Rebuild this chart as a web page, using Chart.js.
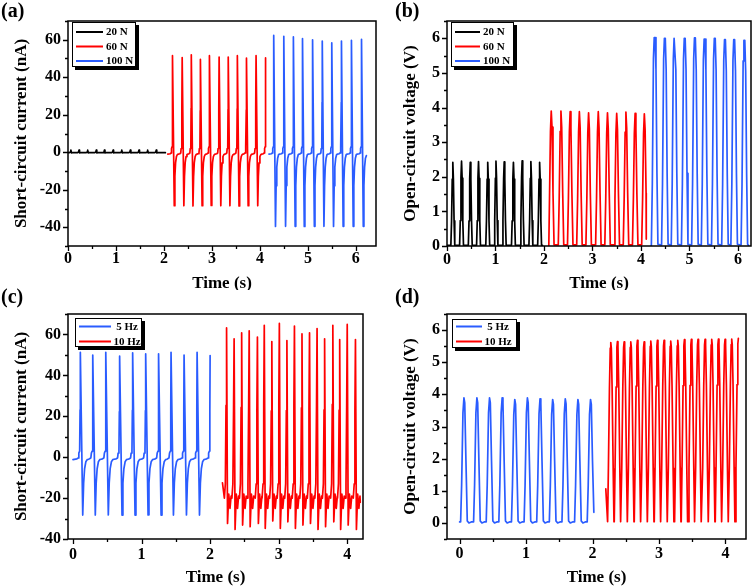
<!DOCTYPE html>
<html>
<head>
<meta charset="utf-8">
<script src="https://cdn.jsdelivr.net/npm/chart.js@4.4.1/dist/chart.umd.min.js"></script>
<style>
  body { margin: 0; background: #fff; }
  #page { position: relative; width: 756px; height: 588px; overflow: hidden; }
  canvas { position: absolute; }
  .tag { position: absolute; font: bold 20px "Liberation Serif", "Times New Roman", serif; line-height: 20px; }
</style>
</head>
<body>
<div id="page">
  <canvas id="chartA" width="378" height="290" style="left:0;top:0"></canvas>
  <canvas id="chartB" width="378" height="290" style="left:378px;top:0"></canvas>
  <canvas id="chartC" width="378" height="298" style="left:0;top:290px"></canvas>
  <canvas id="chartD" width="378" height="298" style="left:378px;top:290px"></canvas>
  <div class="tag" style="left:1px;top:0">(a)</div>
  <div class="tag" style="left:395px;top:0">(b)</div>
  <div class="tag" style="left:1px;top:286px">(c)</div>
  <div class="tag" style="left:395px;top:286px">(d)</div>
</div>
<script>
// ---- colours ----
const BLACK = "#000000";
const RED = "#ff0000";
const BLUE = "#2a5cff";

// ---- tick labels ----
const timeTicks6 = [0, 1, 2, 3, 4, 5, 6];
const timeTicks4 = [0, 1, 2, 3, 4];
const currentTicks = [-40, -20, 0, 20, 40, 60];
const voltageTicks = [0, 1, 2, 3, 4, 5, 6];

// ---- (a) short-circuit current, 20 / 60 / 100 N (peak times in s, values in nA) ----
const a20Peaks = [0.06, 0.23, 0.41, 0.59, 0.76, 0.94, 1.12, 1.30, 1.48, 1.66, 1.84];
const a20Heights = [1.2, 1.2, 1.1, 1.2, 1.2, 1.1, 1.2, 1.2, 1.2, 1.1, 1.2];
const a60Peaks = [2.18, 2.38, 2.57, 2.76, 2.95, 3.15, 3.34, 3.53, 3.72, 3.92, 4.12];
const a60Heights = [51.5, 50.5, 52.0, 49.5, 51.5, 50.8, 50.8, 51.5, 50.2, 51.5, 50.3];
const a60Troughs = [-28.5, -28.5, -28.6, -28.5, -28.4, -28.5, -28.5, -28.6, -28.5, -28.5, -28.5];
const a100Peaks = [4.29, 4.50, 4.70, 4.89, 5.10, 5.30, 5.50, 5.70, 5.91, 6.12];
const a100Heights = [62.3, 61.8, 61.5, 60.6, 60.0, 59.3, 58.4, 59.3, 59.7, 60.2];
const a100Troughs = [-39.6, -39.5, -39.5, -39.6, -39.5, -39.5, -39.6, -39.5, -39.5, -39.5];

// ---- (b) open-circuit voltage, 20 / 60 / 100 N (V) ----
const b20Peaks = [0.12, 0.30, 0.48, 0.65, 0.84, 1.01, 1.18, 1.37, 1.55, 1.73, 1.91];
const b20Heights = [2.42, 2.45, 2.42, 2.44, 2.42, 2.45, 2.43, 2.42, 2.46, 2.44, 2.42];
const b60Peaks = [2.15, 2.35, 2.54, 2.73, 2.92, 3.12, 3.31, 3.50, 3.69, 3.88, 4.07];
const b60Heights = [3.90, 3.90, 3.88, 3.88, 3.85, 3.88, 3.85, 3.83, 3.87, 3.83, 3.82];
const b100Peaks = [4.28, 4.49, 4.69, 4.90, 5.11, 5.31, 5.52, 5.73, 5.92, 6.13];
const b100Heights = [6.02, 6.00, 6.00, 6.00, 6.01, 5.98, 6.00, 5.96, 5.96, 5.94];

// ---- (c) short-circuit current, 5 / 10 Hz (nA) ----
const c5Peaks = [0.107, 0.29, 0.48, 0.68, 0.87, 1.06, 1.25, 1.43, 1.62, 1.81, 2.00];
const c5Heights = [51.3, 49.9, 51.3, 49.4, 51.0, 50.5, 50.5, 51.3, 49.9, 51.3, 49.7];
const c5Troughs = [-28.3, -28.3, -28.2, -28.3, -28.3, -28.2, -28.3, -28.3, -28.2, -28.3, -28.3];
const c10Peaks = [2.24, 2.35, 2.46, 2.57, 2.69, 2.79, 2.90, 3.01, 3.12, 3.23, 3.34, 3.45, 3.56, 3.67, 3.79, 3.89, 4.00, 4.12];
const c10Heights = [63.2, 57.9, 60.8, 61.8, 58.7, 64.5, 56.5, 65.4, 57.0, 64.1, 60.3, 60.8, 62.9, 57.9, 64.5, 57.5, 64.9, 57.5];
const c10Troughs = [-32.4, -35.3, -33.2, -34.0, -32.4, -34.8, -31.2, -34.8, -31.6, -34.8, -33.2, -32.4, -35.3, -34.0, -31.6, -35.3, -33.2, -35.3];

// ---- (d) open-circuit voltage, 5 / 10 Hz (V) ----
const d5Peaks = [0.065, 0.26, 0.45, 0.64, 0.83, 1.02, 1.21, 1.40, 1.59, 1.78, 1.97];
const d5Heights = [3.89, 3.89, 3.89, 3.89, 3.84, 3.89, 3.86, 3.84, 3.86, 3.84, 3.84];
const d10Peaks = [2.275, 2.375, 2.476, 2.576, 2.676, 2.777, 2.877, 2.977, 3.077, 3.177, 3.283, 3.383, 3.488, 3.588, 3.694, 3.794, 3.895, 3.995, 4.095, 4.195];
const d10Heights = [5.61, 5.64, 5.63, 5.63, 5.68, 5.63, 5.66, 5.68, 5.68, 5.66, 5.68, 5.70, 5.71, 5.71, 5.71, 5.71, 5.72, 5.71, 5.72, 5.74];

// first / last sample of each trace [time, value]
const a20Ends = [[0, -0.2], [2.03, -0.2]];
const a60Ends = [[2.08, -1.0], [4.12, 50.3]];
const a100Ends = [[4.19, -1.0], [6.22, -1.8]];
const b20Ends = [[0, 0.02], [1.97, 0.02]];
const b60Ends = [[2.10, 0.02], [4.11, 0.20]];
const b100Ends = [[4.21, 0.02], [6.22, 0.02]];
const c5Ends = [[0, -1.2], [2.00, 49.7]];
const c10Ends = [[2.18, -12.5], [4.19, -22.0]];
const d5Ends = [[0, 0.03], [2.02, 0.33]];
const d10Ends = [[2.20, 1.06], [4.195, 5.74]];

// pulse outlines: [offset from peak (s), value, kind]
// kind p = share of the peak, t = share of the trough, a = absolute value
const spike5Hz = [
  [-0.05, -0.8, "a"], [-0.03, -0.4, "a"], [-0.022, 2, "a"], [-0.01, 3, "a"],
  [-0.004, 0.45, "p"], [0, 1, "p"], [0.035, 1, "t"], [0.048, 0.45, "t"],
  [0.062, 0.2, "t"], [0.08, 0.08, "t"], [0.1, -1.2, "a"], [0.12, -1, "a"]
];
const spike10Hz = [
  [-0.032, -20, "a"], [-0.018, -13, "a"], [-0.008, 0.4, "p"], [0, 1, "p"],
  [0.014, 1, "t"], [0.032, -18, "a"], [0.05, -25, "a"], [0.066, -19, "a"]
];
const bump20N = [[-0.03, -0.2, "a"], [-0.01, 0.2, "a"], [0, 1, "p"], [0.01, -0.3, "a"], [0.03, -0.2, "a"]];
const tent20N = [[-0.04, 0.02, "a"], [-0.026, 0.3, "p"], [-0.012, 0.8, "p"], [0, 1, "p"], [0.012, 0.8, "p"], [0.026, 0.3, "p"], [0.04, 0.02, "a"]];
const tent60N = [[-0.055, 0.03, "a"], [-0.036, 0.35, "p"], [-0.016, 0.85, "p"], [0, 1, "p"], [0.016, 0.88, "p"], [0.036, 0.4, "p"], [0.058, 0.03, "a"]];
const tent100N = [[-0.065, 0.03, "a"], [-0.045, 0.3, "p"], [-0.022, 0.9, "p"], [-0.006, 1, "p"], [0.012, 1, "p"], [0.03, 0.85, "p"], [0.05, 0.35, "p"], [0.07, 0.05, "a"]];
const tent5Hz = [[-0.05, 0.03, "a"], [-0.035, 0.3, "p"], [-0.015, 0.88, "p"], [0, 1, "p"], [0.012, 0.96, "p"], [0.03, 0.5, "p"], [0.05, 0.06, "a"], [0.075, 0.0, "a"], [0.11, 0.03, "a"]];
const tent10Hz = [[-0.048, 0.04, "a"], [-0.036, 0.3, "p"], [-0.02, 0.75, "p"], [-0.008, 0.97, "p"], [0, 1, "p"], [0.008, 0.97, "p"], [0.02, 0.75, "p"], [0.036, 0.3, "p"], [0.048, 0.04, "a"]];

// place the outline at every peak that was read
function pulseTrain(peaks, heights, troughs, shape, ends) {
  const [start, end] = ends;
  const pts = [{ x: start[0], y: start[1] }];
  peaks.forEach((t, i) => {
    shape.forEach(([dt, v, kind]) => {
      const x = t + dt;
      if (x <= start[0] || x >= end[0]) return;
      let y = v;
      if (kind === "p") y = v * heights[i];
      if (kind === "t") y = v * troughs[i];
      pts.push({ x, y });
    });
  });
  pts.push({ x: end[0], y: end[1] });
  return pts.sort((p, q) => p.x - q.x);
}

function trace(label, color, data) {
  return {
    label, data, borderColor: color, backgroundColor: color, borderWidth: 1.7,
    borderJoinStyle: "round", borderCapStyle: "round", pointRadius: 0, tension: 0, fill: false
  };
}

// axes box + outward ticks (major and minor)
const framePlugin = {
  id: "frame",
  afterDatasetsDraw(chart, args, o) {
    const { ctx, chartArea: ca, scales } = chart;
    ctx.save();
    ctx.strokeStyle = "#000";
    ctx.lineWidth = 1.5;
    ctx.strokeRect(ca.left, ca.top, ca.right - ca.left, ca.bottom - ca.top);
    ctx.lineWidth = 1.3;
    ctx.beginPath();
    const sx = scales.x, sy = scales.y;
    for (let k = Math.ceil(sx.min / o.xMinor - 1e-9); k * o.xMinor <= sx.max + 1e-9; k++) {
      const v = k * o.xMinor;
      const major = Math.abs(v / o.xMajor - Math.round(v / o.xMajor)) < 1e-6;
      const px = Math.round(sx.getPixelForValue(v)) + 0.5;
      ctx.moveTo(px, ca.bottom);
      ctx.lineTo(px, ca.bottom + (major ? 5 : 3));
    }
    for (let k = Math.ceil(sy.min / o.yMinor - 1e-9); k * o.yMinor <= sy.max + 1e-9; k++) {
      const v = k * o.yMinor;
      const major = Math.abs(v / o.yMajor - Math.round(v / o.yMajor)) < 1e-6;
      const py = Math.round(sy.getPixelForValue(v)) + 0.5;
      ctx.moveTo(ca.left, py);
      ctx.lineTo(ca.left - (major ? 5 : 3), py);
    }
    ctx.stroke();
    ctx.restore();
  }
};

// Origin style legend box with a drop shadow
const boxLegendPlugin = {
  id: "boxLegend",
  afterDraw(chart, args, o) {
    const { ctx } = chart;
    ctx.save();
    ctx.fillStyle = "#000";
    ctx.fillRect(o.x + 3, o.y + 3, o.w, o.h);
    ctx.fillStyle = "#fff";
    ctx.fillRect(o.x, o.y, o.w, o.h);
    ctx.strokeStyle = "#000";
    ctx.lineWidth = 1;
    ctx.strokeRect(o.x + 0.5, o.y + 0.5, o.w - 1, o.h - 1);
    ctx.font = 'bold 11px "Liberation Serif", "Times New Roman", serif';
    ctx.textBaseline = "middle";
    ctx.textAlign = o.align;
    chart.data.datasets.forEach((ds, i) => {
      const ry = o.rows[i];
      ctx.strokeStyle = ds.borderColor;
      ctx.lineWidth = 2;
      ctx.beginPath();
      ctx.moveTo(o.line[0], ry);
      ctx.lineTo(o.line[1], ry);
      ctx.stroke();
      ctx.fillStyle = "#000";
      ctx.fillText(ds.label, o.textX, ry + 0.5);
    });
    ctx.restore();
  }
};

const FONT = '"Liberation Serif", "Times New Roman", serif';

function makeChart(id, datasets, c) {
  return new Chart(document.getElementById(id), {
    type: "line",
    data: { datasets },
    options: {
      responsive: false,
      animation: false,
      events: [],
      layout: { padding: { left: 0, top: c.top, right: c.right, bottom: 0 } },
      plugins: {
        legend: { display: false },
        tooltip: { enabled: false },
        frame: c.frame,
        boxLegend: c.legend
      },
      scales: {
        x: {
          type: "linear",
          min: c.xRange[0],
          max: c.xRange[1],
          grid: { display: false, drawTicks: false },
          border: { display: false },
          afterBuildTicks: s => { s.ticks = c.xTicks.map(value => ({ value })); },
          afterFit: s => { s.height = c.xHeight; },
          ticks: { color: "#000", padding: c.xPad, maxRotation: 0, font: { family: FONT, size: 16, weight: "bold" } },
          title: { display: true, text: "Time (s)", color: "#000", padding: { top: 0, bottom: c.xTitlePad }, font: { family: FONT, size: 17, weight: "bold", lineHeight: 1 } }
        },
        y: {
          min: c.yRange[0],
          max: c.yRange[1],
          grid: { display: false, drawTicks: false },
          border: { display: false },
          afterBuildTicks: s => { s.ticks = c.yTicks.map(value => ({ value })); },
          afterFit: s => { s.width = c.yWidth; },
          ticks: { color: "#000", padding: 7, font: { family: FONT, size: 16, weight: "bold" } },
          title: { display: true, text: c.yTitle, color: "#000", padding: { top: c.yTitlePad, bottom: 0 }, font: { family: FONT, size: 17, weight: "bold", lineHeight: 1 } }
        }
      }
    },
    plugins: [framePlugin, boxLegendPlugin]
  });
}

makeChart("chartA", [
  trace("20 N", BLACK, pulseTrain(a20Peaks, a20Heights, null, bump20N, a20Ends)),
  trace("60 N", RED, pulseTrain(a60Peaks, a60Heights, a60Troughs, spike5Hz, a60Ends)),
  trace("100 N", BLUE, pulseTrain(a100Peaks, a100Heights, a100Troughs, spike5Hz, a100Ends))
], {
  top: 21, right: 2, yWidth: 68, xHeight: 44, xPad: 3, xTitlePad: -2, yTitlePad: 13,
  xRange: [0, 6.42], yRange: [-50, 70], xTicks: timeTicks6, yTicks: currentTicks,
  yTitle: "Short-circuit current (nA)",
  frame: { xMajor: 1, xMinor: 0.5, yMajor: 20, yMinor: 10 },
  legend: { x: 72, y: 22, w: 64, h: 45, rows: [32, 46.5, 61], line: [76, 103], textX: 106, align: "left" }
});

makeChart("chartB", [
  trace("20 N", BLACK, pulseTrain(b20Peaks, b20Heights, null, tent20N, b20Ends)),
  trace("60 N", RED, pulseTrain(b60Peaks, b60Heights, null, tent60N, b60Ends)),
  trace("100 N", BLUE, pulseTrain(b100Peaks, b100Heights, null, tent100N, b100Ends))
], {
  top: 21, right: 5, yWidth: 69, xHeight: 44, xPad: 4, xTitlePad: -2, yTitlePad: 24,
  xRange: [0, 6.27], yRange: [0, 6.5], xTicks: timeTicks6, yTicks: voltageTicks,
  yTitle: "Open-circuit voltage (V)",
  frame: { xMajor: 1, xMinor: 0.5, yMajor: 1, yMinor: 0.5 },
  legend: { x: 73, y: 22, w: 63, h: 45, rows: [32, 46.5, 61], line: [77, 102], textX: 105, align: "left" }
});

makeChart("chartC", [
  trace("5 Hz", BLUE, pulseTrain(c5Peaks, c5Heights, c5Troughs, spike5Hz, c5Ends)),
  trace("10 Hz", RED, pulseTrain(c10Peaks, c10Heights, c10Troughs, spike10Hz, c10Ends))
], {
  top: 24, right: 15, yWidth: 68, xHeight: 49, xPad: 6, xTitlePad: 2, yTitlePad: 13,
  xRange: [-0.073, 4.23], yRange: [-40, 70], xTicks: timeTicks4, yTicks: currentTicks,
  yTitle: "Short-circuit current (nA)",
  frame: { xMajor: 1, xMinor: 0.5, yMajor: 20, yMinor: 10 },
  legend: { x: 75, y: 28, w: 67, h: 29, rows: [36.5, 51.5], line: [79, 111], textX: 127, align: "center" }
});

makeChart("chartD", [
  trace("5 Hz", BLUE, pulseTrain(d5Peaks, d5Heights, null, tent5Hz, d5Ends)),
  trace("10 Hz", RED, pulseTrain(d10Peaks, d10Heights, null, tent10Hz, d10Ends))
], {
  top: 24, right: 10, yWidth: 69, xHeight: 49, xPad: 5, xTitlePad: 2, yTitlePad: 24,
  xRange: [-0.19, 4.31], yRange: [-0.5, 6.5], xTicks: timeTicks4, yTicks: voltageTicks,
  yTitle: "Open-circuit voltage (V)",
  frame: { xMajor: 1, xMinor: 0.5, yMajor: 1, yMinor: 0.5 },
  legend: { x: 74, y: 29, w: 65, h: 29, rows: [36.5, 51.5], line: [78, 104], textX: 120, align: "center" }
});
</script>
</body>
</html>
